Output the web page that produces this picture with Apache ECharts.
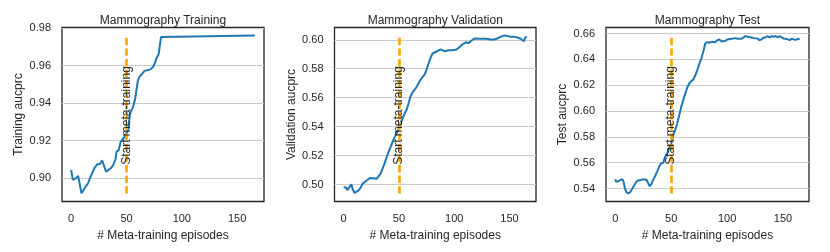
<!DOCTYPE html>
<html><head><meta charset="utf-8">
<script src="https://cdn.jsdelivr.net/npm/echarts@6/dist/echarts.min.js"></script>
<style>html,body{margin:0;padding:0;background:#fff}#c{width:830px;height:252px}</style>
</head><body><div id="c"></div>
<script>
const titles = ['Mammography Training', 'Mammography Validation', 'Mammography Test'];
const yNames = ['Training aucprc', 'Validation aucprc', 'Test aucprc'];
const xName = '# Meta-training episodes';
const xTicks = [0, 50, 100, 150];
const trainTicks = [0.90, 0.92, 0.94, 0.96, 0.98];
const valTicks = [0.50, 0.52, 0.54, 0.56, 0.58, 0.60];
const testTicks = [0.54, 0.56, 0.58, 0.60, 0.62, 0.64, 0.66];
const startEpisode = 50;
const annotation = 'Start meta-training';

const trainX = [0, 1.5, 3.3, 4.5, 6.3, 8.1, 9.3, 11, 13.2, 15.3, 17, 19.2, 21.3, 23.7, 26, 28, 29.7, 31.5, 33.3, 35.7, 38, 40, 41, 43, 44.7, 46.5, 48.3, 50, 51.9, 53, 54.3, 56, 57.9, 59, 60.3, 62, 64, 66.2, 68.6, 71.6, 74, 75.2, 77, 79, 80, 81.2, 82.4, 166];
const trainY = [0.9044, 0.8991, 0.8986, 0.9000, 0.9012, 0.9021, 0.8920, 0.8918, 0.8956, 0.8973, 0.9000, 0.9030, 0.9057, 0.9075, 0.9076, 0.9095, 0.9100, 0.9035, 0.9044, 0.9053, 0.9070, 0.9100, 0.9142, 0.9150, 0.9195, 0.9207, 0.9220, 0.9240, 0.9265, 0.9336, 0.9360, 0.9380, 0.9425, 0.9470, 0.9520, 0.9543, 0.9554, 0.9572, 0.9575, 0.9580, 0.9593, 0.9607, 0.9637, 0.9660, 0.9667, 0.9752, 0.9761, 0.9761];

const valX = [0, 2.1, 3.3, 5.1, 6.9, 8.1, 9.9, 11.4, 13.6, 15.4, 17.2, 19, 21, 22.6, 24.1, 26.2, 28, 29.8, 31.6, 33.4, 35.2, 37, 38.9, 40.7, 42.5, 44.3, 46, 47.9, 49.7, 51.5, 53.3, 55.1, 56.9, 58.7, 60.5, 62.3, 64.2, 66, 67.8, 69.6, 71.4, 73.2, 75, 76.8, 78.6, 80.4, 82.2, 84, 85.8, 87.7, 89.5, 91.3, 93, 94.9, 96.7, 98.5, 100.3, 102, 104, 105.7, 107.5, 109.3, 111, 113, 114.8, 116.6, 118.4, 120.2, 122, 123.8, 125.6, 127.4, 129.2, 131, 132.8, 134.6, 136.4, 138.3, 140, 141.9, 143.7, 145.5, 147.3, 149, 150.9, 152.7, 154.5, 156.3, 158, 160, 161.7, 163, 164.2, 165.7];
const valY = [0.4981, 0.4980, 0.4962, 0.4970, 0.5002, 0.4970, 0.4942, 0.4938, 0.4960, 0.4980, 0.5007, 0.5010, 0.5030, 0.5040, 0.5046, 0.5044, 0.5053, 0.5040, 0.5053, 0.5076, 0.5110, 0.5146, 0.5190, 0.5227, 0.5260, 0.5296, 0.5326, 0.5354, 0.5380, 0.5410, 0.5458, 0.5490, 0.5516, 0.5560, 0.5610, 0.5637, 0.5655, 0.5674, 0.5700, 0.5725, 0.5743, 0.5760, 0.5794, 0.5836, 0.5875, 0.5905, 0.5914, 0.5919, 0.5914, 0.5933, 0.5938, 0.5921, 0.5914, 0.5928, 0.5933, 0.5928, 0.5938, 0.5933, 0.5944, 0.5956, 0.5968, 0.5968, 0.5984, 0.5975, 0.5990, 0.6002, 0.6009, 0.5998, 0.6007, 0.6014, 0.6007, 0.6014, 0.6007, 0.6014, 0.6002, 0.6007, 0.6002, 0.6007, 0.6014, 0.6020, 0.6030, 0.6030, 0.6020, 0.6025, 0.6020, 0.6025, 0.6020, 0.6014, 0.6014, 0.6007, 0.5998, 0.5990, 0.6014, 0.6020];

const testX = [0, 0.9, 2.7, 4.5, 6.3, 7.5, 8.7, 9.9, 11.7, 13.5, 15.3, 17, 18.9, 20.7, 22.5, 24.3, 26, 27.8, 29.3, 30.8, 32.3, 33.8, 35.6, 37.4, 39.2, 41, 42.8, 44.6, 46.4, 48.2, 50, 51.8, 53.6, 55.4, 57.2, 59, 60.8, 62.6, 64.4, 66.2, 68, 69.8, 71.6, 73.4, 75.1, 77, 78.7, 80.5, 82.3, 84.1, 86, 87.7, 89.5, 91.3, 93.1, 95, 96.7, 98.5, 100.3, 102, 104, 105.7, 107.5, 109.3, 111, 113, 114.7, 116.5, 118.3, 120, 121.9, 123.7, 125.4, 127.2, 129, 130.8, 132.6, 134.4, 136.2, 138, 139.8, 141.6, 143.4, 145.2, 147, 148.8, 150.6, 152.4, 154.2, 156, 157.8, 159.6, 161.4, 163.2, 165];
const testY = [0.5472, 0.5452, 0.5457, 0.5465, 0.5472, 0.5452, 0.5400, 0.5374, 0.5361, 0.5374, 0.5400, 0.5426, 0.5452, 0.5465, 0.5465, 0.5470, 0.5465, 0.5470, 0.5465, 0.5418, 0.5434, 0.5465, 0.5495, 0.5529, 0.5568, 0.5594, 0.5599, 0.5645, 0.5671, 0.5710, 0.5748, 0.5813, 0.5852, 0.5903, 0.5968, 0.6032, 0.6084, 0.6135, 0.6182, 0.6213, 0.6231, 0.6244, 0.6277, 0.6316, 0.6363, 0.6406, 0.6458, 0.6523, 0.6533, 0.6528, 0.6535, 0.6543, 0.6533, 0.6548, 0.6554, 0.6538, 0.6533, 0.6543, 0.6554, 0.6561, 0.6559, 0.6554, 0.6564, 0.6559, 0.6554, 0.6559, 0.6569, 0.6580, 0.6574, 0.6585, 0.6569, 0.6564, 0.6574, 0.6561, 0.6548, 0.6554, 0.6569, 0.6569, 0.6580, 0.6569, 0.6580, 0.6574, 0.6580, 0.6569, 0.6580, 0.6569, 0.6561, 0.6559, 0.6554, 0.6548, 0.6559, 0.6554, 0.6551, 0.6559, 0.6554];

const panels = [
  {xs: trainX, ys: trainY, ticks: trainTicks},
  {xs: valX, ys: valY, ticks: valTicks},
  {xs: testX, ys: testY, ticks: testTicks}
];
const gridPos = [
  {left: 62, top: 27.5, width: 202, height: 174},
  {left: 334.5, top: 27.5, width: 201.5, height: 174},
  {left: 606, top: 27.5, width: 203, height: 174}
];
const FONT = '"Liberation Sans", Arial, sans-serif';
const TXT = '#262626';

const option = {
  animation: false,
  backgroundColor: '#fff',
  title: [], grid: [], xAxis: [], yAxis: [], series: []
};
panels.forEach((p, i) => {
  const g = gridPos[i];
  const xmin = Math.min(...p.xs), xmax = Math.max(...p.xs);
  const ymin = Math.min(...p.ys), ymax = Math.max(...p.ys);
  const xp = 0.05 * (xmax - xmin), yp = 0.05 * (ymax - ymin);
  option.grid.push(Object.assign({show: true, borderColor: '#262626', borderWidth: 1.3, backgroundColor: '#fff'}, g));
  option.title.push({
    text: titles[i], left: g.left + g.width / 2, top: 15, textAlign: 'center', padding: 0,
    textStyle: {fontFamily: FONT, fontSize: 12, fontWeight: 'normal', color: TXT}
  });
  option.xAxis.push({
    type: 'value', gridIndex: i, min: xmin - xp, max: xmax + xp,
    name: xName, nameLocation: 'middle', nameGap: 24,
    nameTextStyle: {fontFamily: FONT, fontSize: 12, color: TXT},
    axisLine: {show: false}, splitLine: {show: false},
    axisTick: {show: false, customValues: xTicks},
    axisLabel: {customValues: xTicks, fontFamily: FONT, fontSize: 11, color: TXT, margin: 12}
  });
  option.yAxis.push({
    type: 'value', gridIndex: i, min: ymin - yp, max: ymax + yp,
    name: yNames[i], nameLocation: 'middle', nameGap: 37,
    nameTextStyle: {fontFamily: FONT, fontSize: 12, color: TXT},
    axisLine: {show: false},
    splitLine: {show: true, lineStyle: {color: '#cccccc', width: 1}},
    axisTick: {show: false, customValues: p.ticks},
    axisLabel: {customValues: p.ticks, fontFamily: FONT, fontSize: 11, color: TXT, margin: 11,
      formatter: v => v.toFixed(2)}
  });
  option.series.push({
    type: 'line', xAxisIndex: i, yAxisIndex: i,
    data: p.xs.map((x, k) => [x, p.ys[k]]),
    showSymbol: false, symbol: 'none',
    lineStyle: {color: '#1f77b4', width: 2},
    z: 3,
    markLine: {
      silent: true, symbol: ['none', 'none'], label: {show: false},
      lineStyle: {color: '#ffa500', width: 2.6, type: [7.4, 3.2]},
      data: [[{coord: [startEpisode, ymin]}, {coord: [startEpisode, ymax]}]]
    },
    markPoint: {
      silent: true, symbol: 'rect', symbolSize: 0,
      label: {show: true, formatter: annotation, rotate: 90, position: 'inside', offset: [-1, 0],
        fontFamily: FONT, fontSize: 12, color: TXT},
      data: [{coord: [startEpisode, (ymin - yp + ymax + yp) / 2]}]
    }
  });
});
const chart = echarts.init(document.getElementById('c'), null, {renderer: 'canvas'});
chart.setOption(option);
</script></body></html>
